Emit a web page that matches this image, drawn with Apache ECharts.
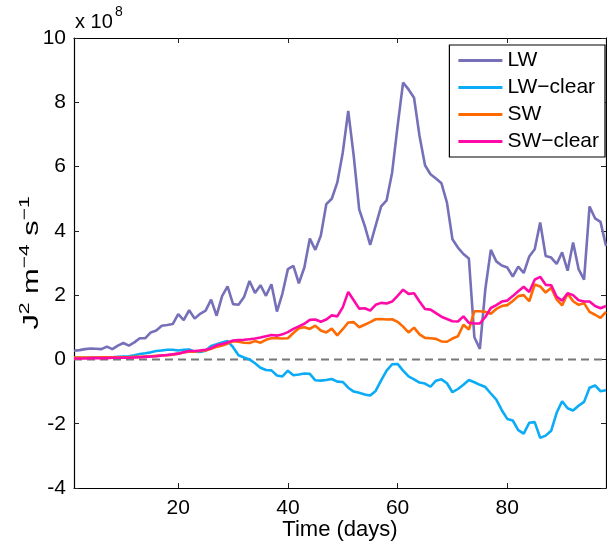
<!DOCTYPE html>
<html><head><meta charset="utf-8">
<script src="https://cdn.jsdelivr.net/npm/echarts@6/dist/echarts.min.js"></script>
<style>html,body{margin:0;padding:0;background:#fff}#c{width:607px;height:542px}</style>
</head><body><div id="c"></div>
<script>
const startDay = 1;
const endDay = 98;
const xTickValues = [20, 40, 60, 80];
const seriesNames = ['LW', 'LW\u2212clear', 'SW', 'SW\u2212clear'];
const zeroLine = [[1, 0], [98, 0]];

const LW = [0.27,0.29,0.32,0.34,0.33,0.32,0.40,0.32,0.43,0.51,
 0.43,0.53,0.66,0.66,0.84,0.90,1.05,1.07,1.10,1.41,
 1.22,1.53,1.27,1.42,1.52,1.86,1.36,1.97,2.27,1.72,
 1.70,1.94,2.44,2.07,2.31,1.98,2.34,1.49,2.05,2.81,
 2.91,2.37,2.86,3.76,3.41,3.85,4.83,5.00,5.50,6.43,
 7.73,6.33,4.67,4.16,3.56,4.16,4.76,4.95,5.81,7.26,
 8.61,8.40,8.14,6.95,6.04,5.76,5.63,5.48,4.88,3.74,
 3.48,3.28,3.14,0.69,0.33,2.19,3.41,3.05,2.92,2.86,
 2.58,2.89,2.69,3.20,3.43,4.26,3.22,3.17,2.97,3.33,
 2.76,3.64,2.81,2.48,4.76,4.39,4.28,3.53];

const LWclear = [0.05,0.05,0.05,0.05,0.06,0.06,0.07,0.07,0.08,0.09,
 0.10,0.13,0.17,0.19,0.22,0.26,0.28,0.30,0.30,0.28,
 0.30,0.31,0.24,0.23,0.27,0.42,0.47,0.53,0.57,0.38,
 0.13,0.06,0.00,-0.12,-0.26,-0.33,-0.34,-0.50,-0.53,-0.35,
 -0.49,-0.47,-0.44,-0.45,-0.65,-0.66,-0.64,-0.61,-0.69,-0.70,
 -0.88,-1.00,-1.04,-1.09,-1.12,-0.98,-0.65,-0.35,-0.15,-0.14,
 -0.35,-0.53,-0.62,-0.72,-0.75,-0.85,-0.66,-0.62,-0.74,-1.02,
 -0.92,-0.79,-0.64,-0.71,-0.79,-0.86,-1.06,-1.25,-1.58,-1.85,
 -1.90,-2.20,-2.31,-1.97,-1.95,-2.44,-2.37,-2.22,-1.66,-1.30,
 -1.52,-1.59,-1.44,-1.32,-0.88,-0.81,-0.99,-0.96];

const SW = [0.06,0.06,0.06,0.06,0.06,0.07,0.07,0.07,0.07,0.07,
 0.07,0.08,0.08,0.09,0.10,0.11,0.12,0.13,0.15,0.18,
 0.22,0.25,0.24,0.26,0.28,0.33,0.39,0.43,0.49,0.57,
 0.55,0.52,0.51,0.57,0.52,0.61,0.66,0.66,0.65,0.66,
 0.82,0.97,1.00,0.95,1.05,0.90,0.84,0.96,0.75,0.94,
 1.15,1.16,1.00,1.08,1.16,1.25,1.26,1.24,1.25,1.17,
 1.02,0.84,0.99,0.78,0.67,0.66,0.64,0.56,0.55,0.65,
 0.72,1.08,0.93,1.50,1.50,1.48,1.42,1.57,1.66,1.69,
 1.82,1.97,2.00,1.81,2.33,2.27,2.08,2.23,1.87,1.68,
 2.05,1.81,1.70,1.75,1.48,1.39,1.29,1.48];

const SWclear = [0.03,0.03,0.03,0.04,0.04,0.04,0.04,0.05,0.05,0.05,
 0.05,0.06,0.07,0.08,0.09,0.10,0.12,0.14,0.16,0.18,
 0.22,0.26,0.26,0.28,0.30,0.35,0.44,0.48,0.53,0.59,
 0.60,0.61,0.63,0.65,0.68,0.72,0.76,0.74,0.78,0.85,
 0.95,1.03,1.11,1.23,1.24,1.17,1.24,1.37,1.34,1.62,
 2.10,1.84,1.58,1.59,1.52,1.70,1.76,1.74,1.80,1.98,
 2.17,2.04,2.06,1.80,1.57,1.55,1.44,1.33,1.26,1.19,
 1.18,1.34,1.14,1.12,1.12,1.32,1.60,1.69,1.80,1.83,
 1.97,2.12,2.26,2.10,2.48,2.57,2.32,2.31,1.95,1.83,
 2.06,2.00,1.84,1.80,1.80,1.66,1.59,1.66];

const colors = ['#7570b8', '#0aabf7', '#ff6a00', '#ff0aa8'];
const FONT = '"Liberation Sans", Arial, Helvetica, sans-serif';

function pairs(arr) { return arr.map((v, i) => [startDay + i, v]); }

const chart = echarts.init(document.getElementById('c'), null, {renderer: 'canvas'});
const lineSeries = [LW, LWclear, SW, SWclear].map((arr, k) => ({
  name: seriesNames[k], type: 'line', data: pairs(arr), symbol: 'none',
  lineStyle: {color: colors[k], width: 2.6}, itemStyle: {color: colors[k]},
  z: 3 + k, animation: false
}));

const axisCommon = {
  type: 'value', min: startDay, max: endDay,
  axisLine: {show: true, onZero: false, lineStyle: {color: '#000', width: 1.2}},
  splitLine: {show: false}
};

chart.setOption({
  animation: false,
  backgroundColor: '#fff',
  grid: {left: 74, right: 1, top: 38, bottom: 54, containLabel: false, outerBoundsMode: 'none'},
  legend: {
    data: seriesNames, orient: 'vertical', right: 2, top: 45,
    icon: 'rect',
    backgroundColor: '#fff', borderColor: '#000', borderWidth: 1.2, borderRadius: 0,
    padding: [5, 6, 5, 9], itemWidth: 44, itemHeight: 3, itemGap: 6,
    textStyle: {fontSize: 21, fontFamily: FONT, color: '#000', lineHeight: 21}
  },
  xAxis: [
    Object.assign({}, axisCommon, {
      position: 'bottom',
      axisTick: {show: true, inside: true, length: 5, customValues: xTickValues, lineStyle: {color: '#222'}},
      axisLabel: {show: true, customValues: xTickValues, margin: 10, fontSize: 21, fontFamily: FONT, color: '#000'},
      name: 'Time (days)', nameLocation: 'middle', nameGap: 31, nameMoveOverlap: false,
      nameTextStyle: {fontSize: 22, fontFamily: FONT, color: '#000'}
    }),
    Object.assign({}, axisCommon, {
      position: 'top',
      axisTick: {show: true, inside: true, length: 5, customValues: xTickValues, lineStyle: {color: '#222'}},
      axisLabel: {show: false}
    })
  ],
  yAxis: [
    {
      type: 'value', min: -4, max: 10, interval: 2, position: 'left',
      axisLine: {show: true, onZero: false, lineStyle: {color: '#000', width: 1.2}},
      axisTick: {show: true, inside: true, length: 5, lineStyle: {color: '#222'}},
      axisLabel: {margin: 8, fontSize: 21, fontFamily: FONT, color: '#000'},
      splitLine: {show: false}
    },
    {
      type: 'value', min: -4, max: 10, interval: 2, position: 'right',
      axisLine: {show: true, onZero: false, lineStyle: {color: '#000', width: 1.2}},
      axisTick: {show: true, inside: true, length: 5, lineStyle: {color: '#222'}},
      axisLabel: {show: false}, splitLine: {show: false}
    }
  ],
  graphic: [
    {type: 'text', left: 75, top: 12, style: {text: 'x 10', fontSize: 20, fontFamily: FONT, fill: '#000'}},
    {type: 'text', left: 115, top: 5, style: {text: '8', fontSize: 14, fontFamily: FONT, fill: '#000'}},
    {
      type: 'text', x: 30, y: 263, rotation: Math.PI / 2, scaleX: 1.4, scaleY: 1,
      style: {
        text: '{n|J}{s|2}{n| m}{s|\u22124}{n| s}{s|\u22121}',
        align: 'center', verticalAlign: 'middle', fill: '#000', fontFamily: FONT,
        rich: {
          n: {fontSize: 22, fontFamily: FONT, fill: '#000', lineHeight: 26, verticalAlign: 'bottom'},
          s: {fontSize: 15, fontFamily: FONT, fill: '#000', lineHeight: 26, verticalAlign: 'top'}
        }
      }
    }
  ],
  series: [{
    name: 'zero', type: 'line', data: zeroLine, symbol: 'none', silent: true,
    lineStyle: {color: '#777', width: 2, type: [8, 5]}, z: 2, animation: false
  }].concat(lineSeries)
});
</script></body></html>
